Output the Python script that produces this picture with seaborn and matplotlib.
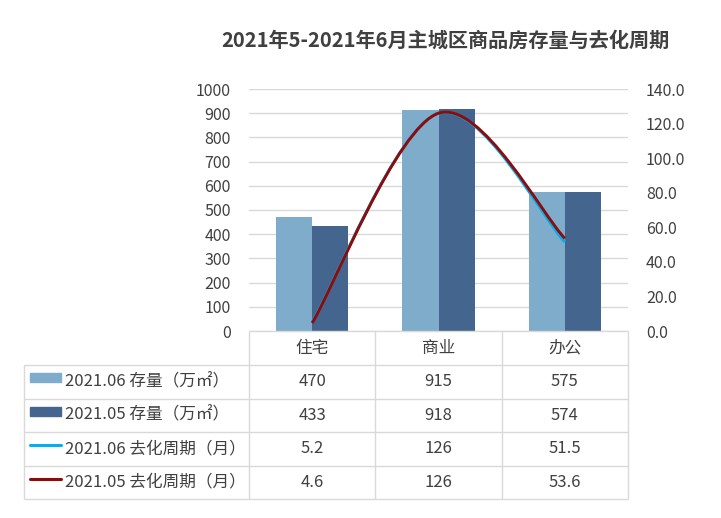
import numpy as np
import pandas as pd
import seaborn as sns
import matplotlib.pyplot as plt
from matplotlib.path import Path
from matplotlib.patches import PathPatch, Rectangle
from matplotlib.ticker import FormatStrFormatter

categories = ['住宅', '商业', '办公']
stock_2106 = [470, 915, 575]
stock_2105 = [433, 918, 574]
cycle_2106 = [5.2, 126, 51.5]
cycle_2105 = [4.6, 126, 53.6]
series_names = ['2021.06 存量（万㎡）', '2021.05 存量（万㎡）',
                '2021.06 去化周期（月）', '2021.05 去化周期（月）']
title = '2021年5-2021年6月主城区商品房存量与去化周期'

c_light, c_dark = '#7FACCB', '#44668E'
c_cyan, c_red = '#00B0F0', '#8E0B0B'
grid_c = '#D9D9D9'
txt_c = '#404040'

sns.set_theme(style='white')
plt.rcParams['font.family'] = ['Noto Sans CJK SC', 'DejaVu Sans']


def smooth_path(xs, ys):
    # excel-like smoothed line: catmull-rom as cubic bezier
    p = np.column_stack([xs, ys]).astype(float)
    ext = np.vstack([p[0], p, p[-1]])
    verts, codes = [p[0]], [Path.MOVETO]
    for i in range(len(p) - 1):
        c1 = ext[i + 1] + (ext[i + 2] - ext[i]) / 6
        c2 = ext[i + 2] - (ext[i + 3] - ext[i + 1]) / 6
        verts += [c1, c2, p[i + 1]]
        codes += [Path.CURVE4] * 3
    return Path(verts, codes)


W, H = 721, 518
fig = plt.figure(figsize=(W / 100, H / 100), dpi=100)
ax = fig.add_axes([249 / W, 1 - 331 / H, 379 / W, 242 / H])

df = pd.DataFrame({
    'cat': categories * 2,
    'val': stock_2106 + stock_2105,
    'series': [series_names[0]] * 3 + [series_names[1]] * 3,
})
sns.barplot(data=df, x='cat', y='val', hue='series', palette=[c_light, c_dark],
            width=0.575, gap=0, saturation=1, errorbar=None, legend=False,
            linewidth=0, ax=ax)
ax.set_xlim(-0.5, 2.5)
ax.set_ylim(0, 1000)
ax.set_yticks(range(0, 1001, 100))
ax.set_xticks([])
ax.set_xlabel('')
ax.set_ylabel('')
ax.yaxis.grid(True, color=grid_c, lw=1)
ax.set_axisbelow(True)
ax.tick_params(axis='y', length=0, pad=13, labelsize=11.5, labelcolor=txt_c)
for s in ax.spines.values():
    s.set_visible(False)

ax2 = ax.twinx()
ax2.set_ylim(0, 140)
ax2.set_yticks(range(0, 141, 20))
ax2.yaxis.set_major_formatter(FormatStrFormatter('%.1f'))
ax2.tick_params(axis='y', length=0, pad=13, labelsize=11.5, labelcolor=txt_c)
ax2.grid(False)
for s in ax2.spines.values():
    s.set_visible(False)

xs = np.arange(len(categories))
for vals, c in [(cycle_2106, c_cyan), (cycle_2105, c_red)]:
    ax2.add_patch(PathPatch(smooth_path(xs, vals), fill=False, edgecolor=c,
                            lw=2.1, capstyle='butt'))

fig.text(445.5 / W, 1 - 40 / H, title, ha='center', va='center',
         fontsize=14.5, fontweight='bold', color=txt_c)

# data table under the plot
tab = fig.add_axes([24 / W, 1 - 499 / H, 604 / W, 168 / H])
tab.set_xlim(0, 604)
tab.set_ylim(168, 0)
tab.axis('off')
label_w = 225
col_w = 379 / 3
rows = [0, 34, 67.5, 101, 134.5, 168]
col_x = [label_w + i * col_w for i in range(4)]
lk = dict(color=grid_c, lw=1, clip_on=False)
tab.hlines(0, label_w, 604, **lk)
tab.hlines(rows[1:], 0, 604, **lk)
tab.vlines(col_x, 0, 168, **lk)
tab.vlines(0, rows[1], 168, **lk)

fs = 12
for i, cat in enumerate(categories):
    tab.text(label_w + (i + 0.5) * col_w, rows[0] + 17, cat, ha='center',
             va='center', fontsize=fs, color=txt_c)

table_vals = [stock_2106, stock_2105, cycle_2106, cycle_2105]
keys = [('bar', c_light), ('bar', c_dark), ('line', c_cyan), ('line', c_red)]
for r, (vals, name, (kind, c)) in enumerate(zip(table_vals, series_names, keys)):
    yc = (rows[r + 1] + rows[r + 2]) / 2
    if kind == 'bar':
        tab.add_patch(Rectangle((6, yc - 8.5), 31, 9, color=c, clip_on=False))
    else:
        tab.plot([6, 37], [yc - 3.5, yc - 3.5], color=c, lw=2.2, clip_on=False)
    tab.text(41, yc, name, ha='left', va='center', fontsize=fs, color=txt_c)
    for i, v in enumerate(vals):
        tab.text(label_w + (i + 0.5) * col_w, yc, f'{v:g}', ha='center',
                 va='center', fontsize=fs, color=txt_c)

fig.savefig('out.png', dpi=100, facecolor='white')
